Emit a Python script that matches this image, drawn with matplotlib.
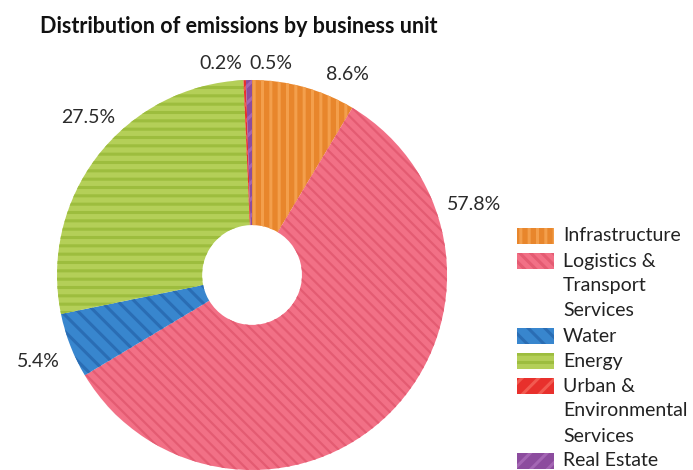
import matplotlib.pyplot as plt
from matplotlib.patches import Rectangle

plt.rcParams['font.family'] = ['Lato', 'DejaVu Sans']
plt.rcParams['hatch.linewidth'] = 2.2

units = ['Infrastructure', 'Logistics &\nTransport\nServices', 'Water', 'Energy',
         'Urban &\nEnvironmental\nServices', 'Real Estate']
shares = [8.6, 57.8, 5.4, 27.5, 0.2, 0.5]
pct_labels = ['8.6%', '57.8%', '5.4%', '27.5%', '0.2%', '0.5%']

fill_colors = ['#E8862C', '#F27086', '#3886CE', '#B4CF58', '#E8302C', '#8C4C9E']
stripe_colors = ['#F39F4C', '#E45B72', '#2A6DB4', '#9DBD3E', '#F25A50', '#A466B4']
hatches = ['||', '\\\\\\', '\\\\', '--', '//', '//']
hatch_widths = [2.2, 1.6, 2.2, 2.2, 2.2, 2.2]
# where each percentage label sits (data units, pie radius = 1)
label_pos = [(0.487, 1.026), (1.138, 0.364), (-1.097, -0.446), (-0.841, 0.810),
             (-0.159, 1.087), (0.097, 1.087)]

fig = plt.figure(figsize=(6.93, 4.70), dpi=100)
ax = fig.add_axes([0.0823, 0.0, 0.5628, 0.8298])
wedges, _ = ax.pie(shares, colors=fill_colors, startangle=90, counterclock=False,
                   radius=1, wedgeprops=dict(width=0.744, linewidth=0))
for w, h, c, hw in zip(wedges, hatches, stripe_colors, hatch_widths):
    w.set_hatch(h)
    w.set_edgecolor(c)
    w.set_linewidth(0)
    if hasattr(w, 'set_hatch_linewidth'):
        w.set_hatch_linewidth(hw)
ax.set_xlim(-1, 1)
ax.set_ylim(-1, 1)
ax.set_aspect('equal')
ax.axis('off')

for (x, y), s in zip(label_pos, pct_labels):
    ax.text(x, y, s, ha='center', va='center', fontsize=14, color='#2a2a2a', clip_on=False)

fig.text(0.058, 0.9426, 'Distribution of emissions by business unit', fontsize=15.5,
         fontweight='bold', color='#111111', ha='left', va='center')

# legend drawn by hand so the swatch sits on the first line of each label
pitch = 25 / 470
y = 1 - 236 / 470
for name, fc, sc, h in zip(units, fill_colors, stripe_colors, hatches):
    fig.add_artist(Rectangle((517 / 693, y - 8 / 470), 37 / 693, 16 / 470,
                             transform=fig.transFigure, facecolor=fc, edgecolor=sc,
                             hatch=h, linewidth=0))
    for line in name.split('\n'):
        fig.text(563 / 693, y, line, fontsize=14, color='#222222', ha='left', va='center')
        y -= pitch

fig.savefig('out.png', dpi=100)
